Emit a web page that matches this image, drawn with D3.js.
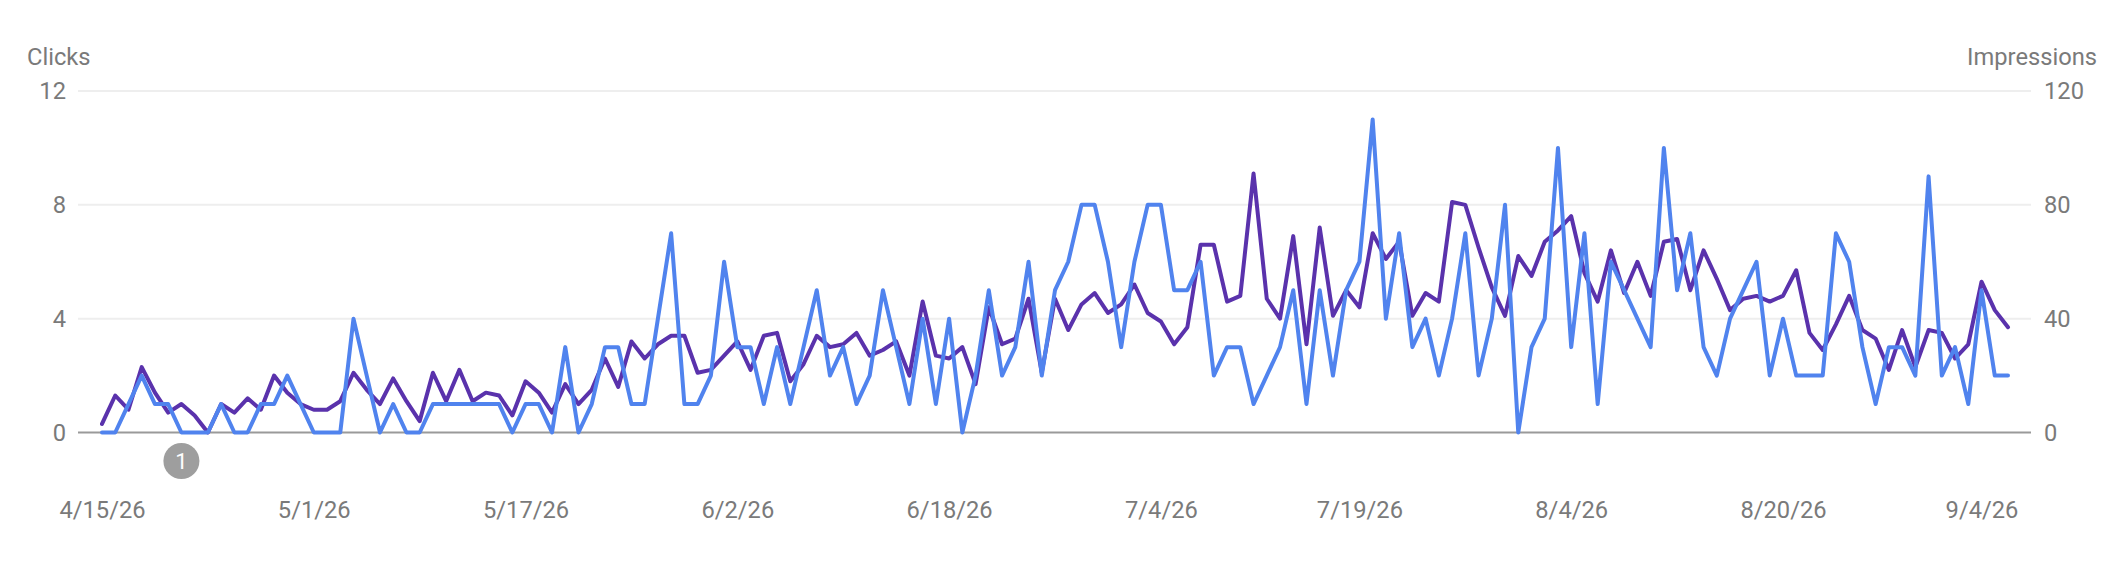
<!DOCTYPE html>
<html><head><meta charset="utf-8">
<script src="https://cdn.jsdelivr.net/npm/d3@7"></script>
<style>
html,body{margin:0;padding:0;background:#fff}
svg{display:block}
text{font-family:Roboto,sans-serif;fill:#7a7a7a}
</style></head><body>
<svg id="c" width="2128" height="562"></svg>
<script>
const xTickLabels=["4/15/26","5/1/26","5/17/26","6/2/26","6/18/26","7/4/26","7/19/26","8/4/26","8/20/26","9/4/26"];
const clickTicks=[0,4,8,12];
const impressionTicks=[0,40,80,120];
const annotationDates=["4/21/26"];
const annotationLabels=["1"];
const firstDay="4/15/26";
const clicks=[0,0,1,2,1,1,0,0,0,1,0,0,1,1,2,1,0,0,0,4,2,0,1,0,0,
1,1,1,1,1,1,0,1,1,0,3,0,1,3,3,1,1,4,7,1,1,2,6,3,3,
1,3,1,3,5,2,3,1,2,5,3,1,4,1,4,0,2,5,2,3,6,2,5,6,8,
8,6,3,6,8,8,5,5,6,2,3,3,1,2,3,5,1,5,2,5,6,11,4,7,3,
4,2,4,7,2,4,8,0,3,4,10,3,7,1,6,5,4,3,10,5,7,3,2,4,5,
6,2,4,2,2,2,7,6,3,1,3,3,2,9,2,3,1,5,2,2];
const impressions=[3,13,8,23,14,7,10,6,0,10,7,12,8,20,14,10,8,8,11,21,15,10,19,11,4,
21,11,22,11,14,13,6,18,14,7,17,10,15,26,16,32,26,31,34,34,21,22,27,32,22,
34,35,18,24,34,30,31,35,27,29,32,20,46,27,26,30,17,44,31,33,47,21,47,36,45,
49,42,45,52,42,39,31,37,66,66,46,48,91,47,40,69,31,72,41,50,44,70,61,67,41,
49,46,81,80,65,51,41,62,55,67,71,76,56,46,64,49,60,48,67,68,50,64,54,43,47,
48,46,48,57,35,29,38,48,36,33,22,36,23,36,35,26,31,53,43,37];

const blue="#5083ee", purple="#5a32ac";
const plotLeft=78,plotRight=2031,plotTop=91,plotBottom=432.5;
const svg=d3.select("#c");
const parse=d3.utcParse("%-m/%-d/%y");
const start=parse(firstDay);
const day=i=>d3.utcDay.offset(start,i);
const x=d3.scaleUtc().domain([start,day(clicks.length-1)]).range([102,2008]);
const yL=d3.scaleLinear().domain([0,12]).range([plotBottom,plotTop]);
const yR=d3.scaleLinear().domain([0,120]).range([plotBottom,plotTop]);

// grid
const grid=svg.append("g");
grid.selectAll("line").data(clickTicks.filter(d=>d>0)).join("line")
 .attr("x1",plotLeft).attr("x2",plotRight).attr("y1",d=>yL(d)).attr("y2",d=>yL(d))
 .attr("stroke","#eeeeee").attr("stroke-width",2);
grid.append("line").attr("x1",plotLeft).attr("x2",plotRight).attr("y1",yL(0)).attr("y2",yL(0))
 .attr("stroke","#9a9a9a").attr("stroke-width",2);

// lines
const lineI=d3.line().x((d,i)=>x(day(i))).y(d=>yR(d));
const lineC=d3.line().x((d,i)=>x(day(i))).y(d=>yL(d));
svg.append("path").datum(impressions).attr("d",lineI).attr("fill","none")
 .attr("stroke",purple).attr("stroke-width",4).attr("stroke-linejoin","round").attr("stroke-linecap","round");
svg.append("path").datum(clicks).attr("d",lineC).attr("fill","none")
 .attr("stroke",blue).attr("stroke-width",4).attr("stroke-linejoin","round").attr("stroke-linecap","round");

// axes
const fs=23.7;
const gl=svg.append("g").attr("transform","translate(66,0)")
 .call(d3.axisLeft(yL).tickValues(clickTicks).tickSize(0).tickPadding(0));
const gr=svg.append("g").attr("transform","translate(2044,0)")
 .call(d3.axisRight(yR).tickValues(impressionTicks).tickSize(0).tickPadding(0));
const gx=svg.append("g").attr("transform","translate(0,501)")
 .call(d3.axisBottom(x).tickValues(xTickLabels.map(parse)).tickSize(0).tickPadding(0)
   .tickFormat((d,i)=>xTickLabels[i]));
[gl,gr,gx].forEach(g=>{g.select(".domain").remove();
 g.selectAll("text").attr("font-family","Roboto").attr("font-size",fs).style("fill","#7a7a7a");});
gx.selectAll("text").attr("y",0).attr("dy","0.72em");

// axis titles
svg.append("text").attr("x",27).attr("y",65).attr("font-size",fs).text("Clicks");
svg.append("text").attr("x",2097).attr("y",65).attr("font-size",fs).attr("text-anchor","end").text("Impressions");

// annotations
const ann=svg.append("g").selectAll("g").data(annotationDates).join("g")
 .attr("transform",d=>`translate(${x(parse(d))},461)`);
ann.append("circle").attr("r",18).attr("fill","#9e9e9e");
ann.append("text").attr("text-anchor","middle").attr("dy","0.36em")
 .attr("font-size",22).style("fill","#fff").text((d,i)=>annotationLabels[i]);
</script></body></html>
